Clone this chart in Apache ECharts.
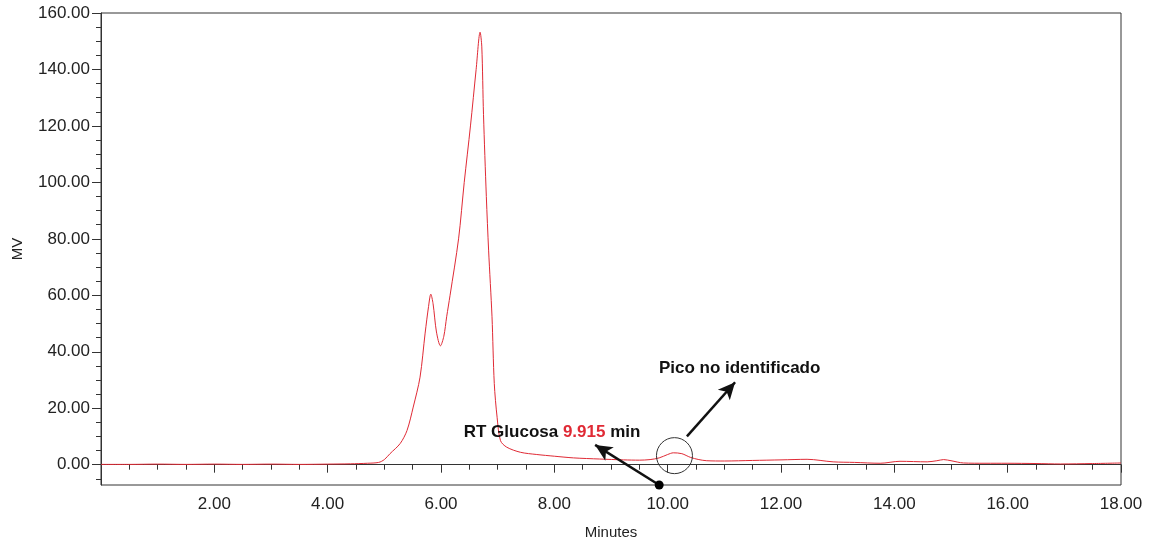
<!DOCTYPE html>
<html>
<head>
<meta charset="utf-8">
<script src="https://cdn.jsdelivr.net/npm/echarts@6/dist/echarts.min.js"></script>
<style>
  html, body { margin: 0; padding: 0; background: #fff; }
  #chart { width: 1154px; height: 541px; }
</style>
</head>
<body>
<div id="chart"></div>
<script>
var minutes = [0, 0.5, 1, 1.5, 2, 2.5, 3, 3.5, 4, 4.4, 4.7, 4.9, 5.0, 5.1, 5.28, 5.4, 5.51, 5.63, 5.72, 5.78, 5.82, 5.86, 5.92, 5.99, 6.05, 6.1, 6.16, 6.31, 6.41, 6.52, 6.62, 6.69, 6.72, 6.75, 6.8, 6.84, 6.9, 6.94, 6.99, 7.05, 7.16, 7.4, 7.69, 8.0, 8.34, 8.8, 9.22, 9.5, 9.69, 9.85, 10.0, 10.1, 10.25, 10.4, 10.55, 10.69, 11.0, 11.5, 12.0, 12.46, 12.92, 13.3, 13.75, 14.1, 14.58, 14.75, 14.87, 15.0, 15.22, 15.6, 15.99, 16.5, 16.93, 17.5, 18];
var mv = [0.1, 0.1, 0.2, 0.1, 0.2, 0.1, 0.2, 0.1, 0.2, 0.3, 0.5, 0.8, 1.8, 3.9, 7.5, 12.1, 20.4, 31, 46.6, 56, 60.4, 57, 47, 42.1, 45.5, 52.4, 60, 80, 100, 120, 140, 153.2, 148, 124, 95, 76, 52.4, 28.8, 16.8, 8.5, 6.2, 4.4, 3.6, 3.0, 2.4, 2.0, 1.7, 1.6, 1.8, 2.4, 3.6, 4.2, 3.9, 2.6, 1.8, 1.4, 1.3, 1.5, 1.7, 1.9, 1.0, 0.8, 0.5, 1.2, 1.0, 1.4, 1.8, 1.4, 0.6, 0.5, 0.5, 0.4, 0.25, 0.4, 0.6];

var xTicks = [2, 4, 6, 8, 10, 12, 14, 16, 18];
var yTicks = [0, 20, 40, 60, 80, 100, 120, 140, 160];
var yMinorTicks = [-5, 0, 5, 10, 15, 20, 25, 30, 35, 40, 45, 50, 55, 60, 65, 70, 75, 80, 85, 90, 95, 100, 105, 110, 115, 120, 125, 130, 135, 140, 145, 150, 155, 160];

var rtGlucosa = 9.915;
var yMin = -7.2, yMax = 160;

var points = [];
for (var i = 0; i < minutes.length; i++) {
  points.push([minutes[i], mv[i]]);
}

var ink = '#222';
var font = 'Liberation Sans, Arial, sans-serif';

var chart = echarts.init(document.getElementById('chart'));
var option = {
  animation: false,
  grid: {
    left: 101, right: 33, top: 13, bottom: 56,
    outerBoundsMode: 'none',
    show: true, borderColor: '#333', borderWidth: 1, backgroundColor: '#fff'
  },
  xAxis: {
    type: 'value',
    min: 0, max: 18, interval: 2,
    name: 'Minutes',
    nameLocation: 'middle',
    nameGap: 40,
    nameTextStyle: { color: ink, fontSize: 15, fontFamily: font },
    axisLine: { show: true, lineStyle: { color: '#333', width: 1 } },
    axisTick: { show: true, length: 8, lineStyle: { color: '#333' } },
    minorTick: { show: true, splitNumber: 4, length: 5, lineStyle: { color: '#333' } },
    axisLabel: {
      showMinLabel: false,
      margin: 11,
      color: ink, fontSize: 17, fontFamily: font,
      formatter: function (v) { return v.toFixed(2); }
    },
    splitLine: { show: false }
  },
  yAxis: [{
    type: 'value',
    min: yMin, max: yMax,
    name: 'MV',
    nameLocation: 'middle',
    nameRotate: 90,
    nameGap: 76,
    nameTextStyle: { color: ink, fontSize: 15, fontFamily: font },
    axisLine: { show: true, lineStyle: { color: '#333', width: 1 } },
    axisTick: { show: true, length: 9, customValues: yTicks, lineStyle: { color: '#333' } },
    axisLabel: {
      customValues: yTicks,
      margin: 11,
      color: ink, fontSize: 17, fontFamily: font,
      formatter: function (v) { return v.toFixed(2); }
    },
    splitLine: { show: false }
  }, {
    // solo para las marcas menores
    type: 'value',
    position: 'left',
    min: yMin, max: yMax,
    axisLine: { show: false },
    axisTick: { show: true, length: 5, customValues: yMinorTicks, lineStyle: { color: '#333' } },
    axisLabel: { show: false },
    splitLine: { show: false }
  }],
  series: [{
    type: 'line',
    data: points,
    yAxisIndex: 0,
    smooth: 0.3,
    showSymbol: false,
    clip: false,
    lineStyle: { color: '#e02a35', width: 1 },
    itemStyle: { color: '#e02a35' },
    markLine: {
      silent: true,
      symbol: ['none', 'arrow'],
      symbolSize: [12, 17],
      label: { show: false },
      lineStyle: { color: '#111', width: 2.5, type: 'solid' },
      data: [
        [{ coord: [9.85, yMin] }, { coord: [8.72, 7.0] }],
        [{ coord: [10.34, 10] }, { coord: [11.19, 29.2] }]
      ]
    },
    markPoint: {
      silent: true,
      data: [
        {
          coord: [9.85, yMin], symbol: 'circle', symbolSize: 9,
          itemStyle: { color: '#000' }, label: { show: false }
        },
        {
          coord: [10.12, 3.2], symbol: 'circle', symbolSize: 36,
          itemStyle: { color: 'rgba(0,0,0,0)', borderColor: '#333', borderWidth: 1 },
          label: { show: false }
        },
        {
          coord: [7.96, 11.5], symbol: 'circle', symbolSize: 0,
          label: {
            show: true, position: 'inside',
            formatter: '{b|RT Glucosa }{r|' + rtGlucosa.toFixed(3) + '}{b| min}',
            rich: {
              b: { color: '#111', fontSize: 17, fontWeight: 'bold', fontFamily: font },
              r: { color: '#e02a35', fontSize: 17, fontWeight: 'bold', fontFamily: font }
            }
          }
        },
        {
          coord: [11.27, 34.2], symbol: 'circle', symbolSize: 0,
          label: {
            show: true, position: 'inside',
            formatter: 'Pico no identificado',
            color: '#111', fontSize: 17, fontWeight: 'bold', fontFamily: font
          }
        }
      ]
    }
  }]
};
chart.setOption(option);
</script>
</body>
</html>
